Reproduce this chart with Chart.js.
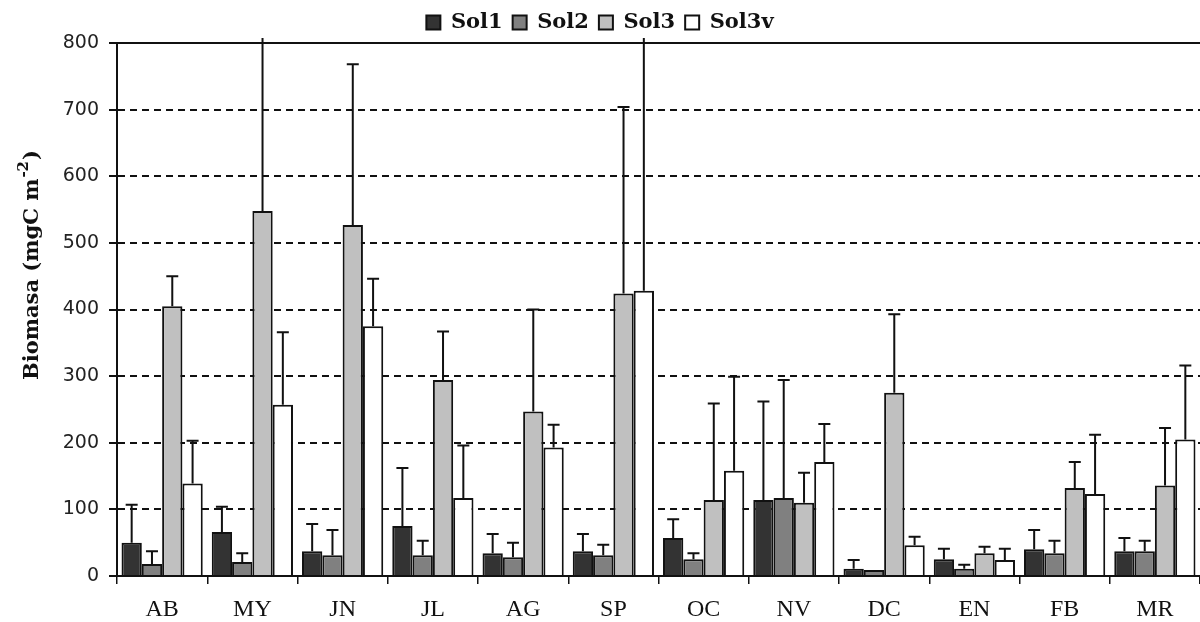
<!DOCTYPE html>
<html>
<head>
<meta charset="utf-8">
<script src="https://cdn.jsdelivr.net/npm/chart.js@4"></script>
<style>
  html, body { margin: 0; padding: 0; background: #fff; }
</style>
</head>
<body>
<canvas id="myChart" width="1200" height="622"></canvas>
<script>
// monthly biomass per soil, with standard deviations (upper whisker only)
var months = ['AB', 'MY', 'JN', 'JL', 'AG', 'SP', 'OC', 'NV', 'DC', 'EN', 'FB', 'MR'];
var sol1 = [50, 66, 37, 75, 34, 37, 57, 114, 11, 25, 40, 37];
var sol1Sd = [57, 38, 41, 87, 29, 26, 28, 148, 13, 16, 29, 20];
var sol2 = [18, 21, 31, 31, 28, 31, 25, 117, 9, 11, 34, 37];
var sol2Sd = [19, 13, 38, 22, 22, 16, 9, 177, 0, 6, 19, 16];
var sol3 = [405, 548, 527, 294, 247, 424, 114, 110, 275, 34, 132, 136];
var sol3Sd = [45, 272, 241, 73, 153, 280, 145, 45, 118, 10, 39, 86];
var sol3v = [139, 257, 375, 117, 193, 428, 158, 171, 46, 24, 123, 205];
var sol3vSd = [64, 109, 71, 79, 34, 392, 141, 57, 13, 17, 89, 111];
var yTicks = [0, 100, 200, 300, 400, 500, 600, 700, 800];

var whiteBg = {
  id: 'whiteBg',
  beforeDraw: function(chart) {
    var ctx = chart.ctx;
    ctx.save();
    ctx.fillStyle = '#fff';
    ctx.fillRect(0, 0, chart.width, chart.height);
    ctx.restore();
  }
};

// upward error bars with a cap, plus the solid frame line along the top
var errorBars = {
  id: 'errorBars',
  afterDatasetsDraw: function(chart) {
    var ctx = chart.ctx, y = chart.scales.y, area = chart.chartArea;
    ctx.save();
    ctx.strokeStyle = '#111';
    ctx.lineWidth = 2;
    ctx.beginPath();
    ctx.moveTo(area.left, area.top);
    ctx.lineTo(area.right, area.top);
    ctx.stroke();
    ctx.beginPath();
    ctx.rect(area.left, area.top - 5, area.right - area.left, area.bottom - area.top + 5);
    ctx.clip();
    chart.data.datasets.forEach(function(ds, i) {
      var meta = chart.getDatasetMeta(i);
      meta.data.forEach(function(bar, j) {
        var sd = ds.sd[j];
        if (!sd) return;
        var top = y.getPixelForValue(ds.data[j] + sd);
        ctx.beginPath();
        ctx.moveTo(bar.x, bar.y);
        ctx.lineTo(bar.x, top);
        ctx.moveTo(bar.x - 6, top);
        ctx.lineTo(bar.x + 6, top);
        ctx.stroke();
      });
    });
    ctx.restore();
  }
};

// rotated y title with a superscript exponent
var yTitle = {
  id: 'yTitle',
  afterDraw: function(chart) {
    var ctx = chart.ctx;
    var main = 'Biomasa (mgC m', exp = '-2', close = ')';
    ctx.save();
    ctx.translate(38, 266);
    ctx.rotate(-Math.PI / 2);
    ctx.fillStyle = '#111';
    ctx.textBaseline = 'alphabetic';
    ctx.font = 'bold 21px "DejaVu Serif"';
    var w1 = ctx.measureText(main).width;
    ctx.font = 'bold 15px "DejaVu Serif"';
    var w2 = ctx.measureText(exp).width;
    ctx.font = 'bold 21px "DejaVu Serif"';
    var w3 = ctx.measureText(close).width;
    var x = -(w1 + w2 + w3) / 2;
    ctx.fillText(main, x, 0);
    ctx.font = 'bold 15px "DejaVu Serif"';
    ctx.fillText(exp, x + w1 + 1, -10);
    ctx.font = 'bold 21px "DejaVu Serif"';
    ctx.fillText(close, x + w1 + w2 + 2, 0);
    ctx.restore();
  }
};

var ctx = document.getElementById('myChart').getContext('2d');
var chart = new Chart(ctx, {
  type: 'bar',
  data: {
    labels: months,
    datasets: [
      { label: 'Sol1', data: sol1, sd: sol1Sd, backgroundColor: '#333333' },
      { label: 'Sol2', data: sol2, sd: sol2Sd, backgroundColor: '#808080' },
      { label: 'Sol3', data: sol3, sd: sol3Sd, backgroundColor: '#c0c0c0' },
      { label: 'Sol3v', data: sol3v, sd: sol3vSd, backgroundColor: '#ffffff' }
    ]
  },
  options: {
    responsive: false,
    animation: false,
    layout: { padding: { top: 2, right: 0, left: 0, bottom: 0 } },
    datasets: {
      bar: {
        borderColor: '#111',
        borderWidth: 2,
        categoryPercentage: 0.9,
        barPercentage: 1.0
      }
    },
    plugins: {
      legend: {
        position: 'top',
        labels: {
          color: '#111',
          font: { family: '"DejaVu Serif"', size: 21, weight: 'bold' },
          boxWidth: 14,
          boxHeight: 14,
          padding: 10
        }
      },
      tooltip: { enabled: false }
    },
    scales: {
      x: {
        grid: {
          offset: true,
          drawOnChartArea: false,
          drawTicks: true,
          tickLength: 8,
          color: '#111',
          lineWidth: 1.5
        },
        border: { color: '#111', width: 2 },
        ticks: {
          color: '#111',
          padding: 11,
          font: { family: '"Liberation Serif"', size: 24 }
        },
        afterFit: function(scale) { scale.height = 46; }
      },
      y: {
        min: 0,
        max: 800,
        afterBuildTicks: function(scale) {
          scale.ticks = yTicks.map(function(v) { return { value: v }; });
        },
        grid: {
          color: function(c) {
            var v = c.tick && c.tick.value;
            return (v === 0 || v === 800) ? 'rgba(0,0,0,0)' : '#111';
          },
          tickColor: '#111',
          lineWidth: 2,
          tickLength: 8,
          tickWidth: 2
        },
        border: { color: '#111', width: 2, dash: [7, 5] },
        ticks: {
          color: '#222',
          padding: 10,
          font: { family: '"DejaVu Sans"', size: 19 }
        },
        afterFit: function(scale) { scale.width = 117; }
      }
    }
  },
  plugins: [whiteBg, errorBars, yTitle]
});
</script>
</body>
</html>
